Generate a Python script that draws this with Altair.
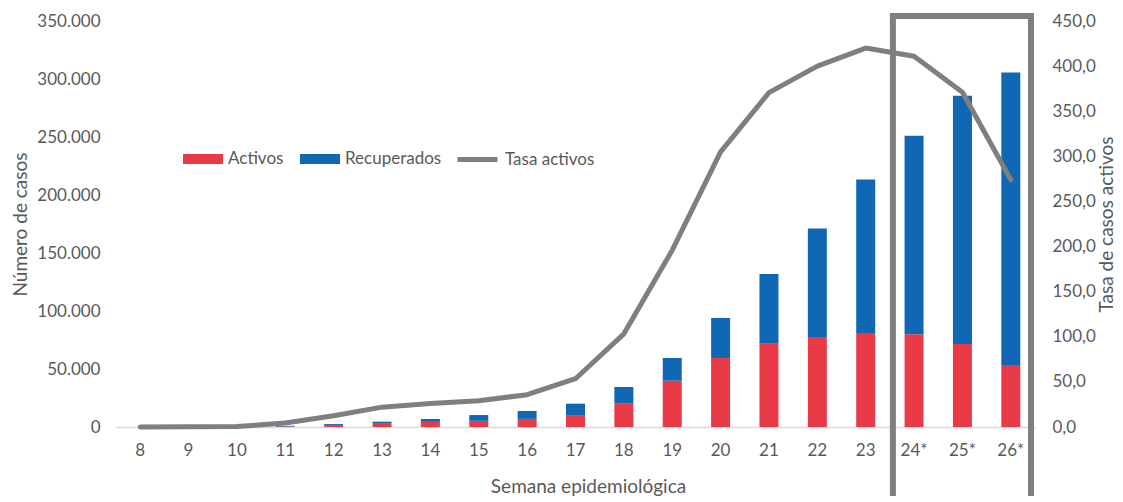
import altair as alt
import pandas as pd

weeks = ["8", "9", "10", "11", "12", "13", "14", "15", "16", "17", "18",
         "19", "20", "21", "22", "23", "24*", "25*", "26*"]
activos = [0, 10, 30, 400, 1800, 3400, 4400, 5300, 7000, 9700, 20100,
           39900, 59500, 71800, 77600, 81000, 80000, 71500, 53500]
totales = [0, 10, 40, 1000, 2600, 4600, 6900, 10300, 13800, 20100, 34500,
           59500, 94000, 131900, 171200, 213400, 251000, 285500, 305500]
recuperados = [t - a for t, a in zip(totales, activos)]
tasa = [0.0, 0.2, 0.5, 4.4, 12.5, 22.0, 26.0, 29.0, 35.8, 53.5, 103.3,
        196.0, 305.0, 370.6, 400.0, 420.0, 411.0, 371.0, 274.0]
series = ["Activos", "Recuperados"]
box_weeks = ["24*", "26*"]

RED = "#E83A47"
BLUE = "#1068B4"
GRAY = "#7F7F7F"
TXT = "#595959"
FONT = "Lato"
LBL = 17
TTL = 19

bars_df = pd.DataFrame({
    "semana": weeks * 2,
    "serie": [series[0]] * len(weeks) + [series[1]] * len(weeks),
    "orden": [0] * len(weeks) + [1] * len(weeks),
    "casos": activos + recuperados,
})
line_df = pd.DataFrame({"semana": weeks, "tasa": tasa, "leyenda": ["Tasa activos"] * len(weeks)})
box_df = pd.DataFrame({"desde": [box_weeks[0]], "hasta": [box_weeks[1]]})

x_enc = alt.X("semana:N", sort=weeks,
              scale=alt.Scale(domain=weeks, paddingInner=0, paddingOuter=0, round=False),
              axis=alt.Axis(title="Semana epidemiológica", labelAngle=0, ticks=False,
                            domain=True, domainColor="#D9D9D9", domainWidth=1.5,
                            labelPadding=15, labelFontSize=LBL, labelColor=TXT,
                            labelFont=FONT, titleFont=FONT, titleFontSize=TTL,
                            titleColor=TXT, titleFontWeight="normal",
                            titleX=472, titleY=59, titleBaseline="middle",
                            titleAlign="center", grid=False))

bars = alt.Chart(bars_df).mark_bar(size=19).encode(
    x=x_enc,
    y=alt.Y("casos:Q", stack="zero",
            scale=alt.Scale(domain=[0, 350000], nice=False),
            axis=alt.Axis(title="Número de casos", format=",d", values=list(range(0, 350001, 50000)),
                          grid=False, domain=False, ticks=False, labelPadding=16,
                          labelFontSize=LBL, labelColor=TXT, labelFont=FONT,
                          titleFont=FONT, titleFontSize=TTL, titleColor=TXT,
                          titleFontWeight="normal", titleX=-96, titleY=203,
                          titleAngle=-90, titleAlign="center", titleBaseline="middle")),
    color=alt.Color("serie:N", scale=alt.Scale(domain=series, range=[RED, BLUE]),
                    legend=alt.Legend(title=None, orient="none", legendX=67, legendY=118,
                                      direction="horizontal", padding=0,
                                      symbolType="M-1,-0.25H1V0.25H-1Z", symbolSize=1600,
                                      symbolStrokeWidth=0, symbolOpacity=1,
                                      labelFont=FONT, labelFontSize=LBL, labelColor=TXT,
                                      labelOffset=5, columnPadding=16)),
    order=alt.Order("orden:Q"),
)

line = alt.Chart(line_df).mark_line(strokeWidth=5, strokeJoin="round", strokeCap="round").encode(
    x=alt.X("semana:N", sort=weeks),
    y=alt.Y("tasa:Q", scale=alt.Scale(domain=[0, 450], nice=False),
            axis=alt.Axis(title="Tasa de casos activos", orient="right", format=".1f",
                          values=list(range(0, 451, 50)), grid=False, domain=False,
                          ticks=False, labelPadding=17, labelFontSize=LBL, labelColor=TXT,
                          labelFont=FONT, titleFont=FONT, titleFontSize=TTL, titleColor=TXT,
                          titleFontWeight="normal", titleX=71, titleY=203, titleAngle=-90,
                          titleAlign="center", titleBaseline="middle")),
    stroke=alt.Stroke("leyenda:N", scale=alt.Scale(domain=["Tasa activos"], range=[GRAY]),
                      legend=alt.Legend(title=None, orient="none", legendX=339, legendY=116,
                                        padding=0, symbolType="stroke", symbolSize=1600,
                                        symbolStrokeWidth=5, labelFont=FONT, labelFontSize=LBL,
                                        labelColor=TXT, labelOffset=5)),
)

box = alt.Chart(box_df).mark_rect(filled=False, stroke=GRAY, strokeWidth=6, clip=False,
                                  xOffset=3, x2Offset=-4).encode(
    x=alt.X("desde:N", sort=weeks, bandPosition=0),
    x2=alt.X2("hasta:N", bandPosition=1),
    y=alt.value(-5),
    y2=alt.value(500),
)

chart = alt.layer(bars, line, box).resolve_scale(
    y="independent", color="independent", stroke="independent"
).properties(
    width=919, height=406,
    autosize=alt.AutoSizeParams(type="none"),
    padding={"left": 108, "top": 13, "right": 80, "bottom": 69},
).configure(
    locale={"number": {"decimal": ",", "thousands": ".", "grouping": [3], "currency": ["", ""]}}
).configure_view(stroke=None)

chart.save("out.html", embed_options={"renderer": "svg", "actions": False})
